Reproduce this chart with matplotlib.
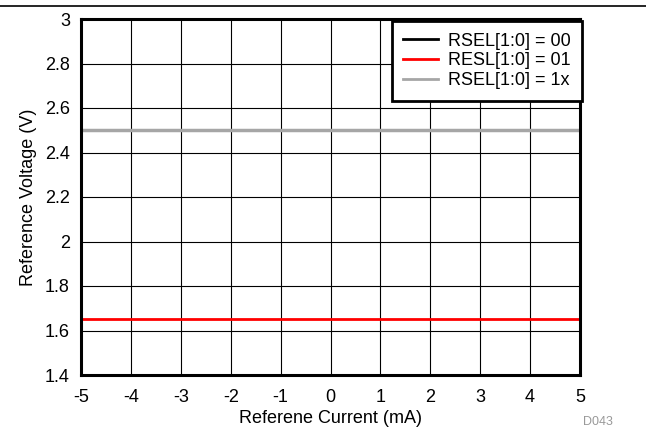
import matplotlib
matplotlib.use('Agg')
import matplotlib.pyplot as plt
from matplotlib.lines import Line2D

plt.rcParams['font.family'] = ['Liberation Sans', 'DejaVu Sans']
plt.rcParams['axes.unicode_minus'] = False

# Referene current (mA) and reference voltage (V)
current = [-5, -4, -3, -2, -1, 0, 1, 2, 3, 4, 5]
v_00 = [2.5, 2.5, 2.5, 2.5, 2.5, 2.5, 2.5, 2.5, 2.5, 2.5, 2.5]
v_01 = [1.65, 1.65, 1.65, 1.65, 1.65, 1.65, 1.65, 1.65, 1.65, 1.65, 1.65]
v_1x = [2.5, 2.5, 2.5, 2.5, 2.5, 2.5, 2.5, 2.5, 2.5, 2.5, 2.5]
labels = ['RSEL[1:0] = 00', 'RESL[1:0] = 01', 'RSEL[1:0] = 1x']
colors = ['#000000', '#ff0000', '#a6a6a6']

fs = 13

fig = plt.figure(figsize=(6.46, 4.33), dpi=100)
ax = fig.add_axes([81 / 646, 1 - 375 / 433, (580 - 81) / 646, (375 - 19) / 433])

ax.plot(current, v_00, color=colors[0], lw=2, label=labels[0])
ax.plot(current, v_01, color=colors[1], lw=2, label=labels[1])
ax.plot(current, v_1x, color=colors[2], lw=2.5, label=labels[2])

ax.set_xlim(-5, 5)
ax.set_ylim(1.4, 3)
ax.set_xticks(range(-5, 6))
ax.set_yticks([1.4, 1.6, 1.8, 2.0, 2.2, 2.4, 2.6, 2.8, 3.0])
ax.set_yticklabels(['1.4', '1.6', '1.8', '2', '2.2', '2.4', '2.6', '2.8', '3'])
ax.grid(True, color='black', lw=0.8)
ax.set_axisbelow(True)
ax.tick_params(axis='x', length=0, labelsize=fs, pad=10)
ax.tick_params(axis='y', length=0, labelsize=fs, pad=8)
for s in ax.spines.values():
    s.set_linewidth(2.2)

ax.set_xlabel('Referene Current (mA)', fontsize=fs, labelpad=3)
ax.set_ylabel('Reference Voltage (V)', fontsize=fs, labelpad=6)

handles = [Line2D([], [], color=c, lw=2) for c in colors]
leg = ax.legend(handles, labels, loc='upper right', bbox_to_anchor=(1.004, 0.995),
                borderaxespad=0, fontsize=fs, fancybox=False, framealpha=1,
                facecolor='white', edgecolor='black', borderpad=0.65,
                labelspacing=0.15, handlelength=1.95, handletextpad=0.5)
leg.get_frame().set_linewidth(2)
leg.set_zorder(10)

fig.add_artist(Line2D([0, 1], [1 - 6 / 433, 1 - 6 / 433], color='black', lw=1.2))
fig.text(598 / 646, 1 - 422 / 433, 'D043', color='#999999', fontsize=9,
         ha='center', va='center')

fig.savefig('out.png', dpi=100)
